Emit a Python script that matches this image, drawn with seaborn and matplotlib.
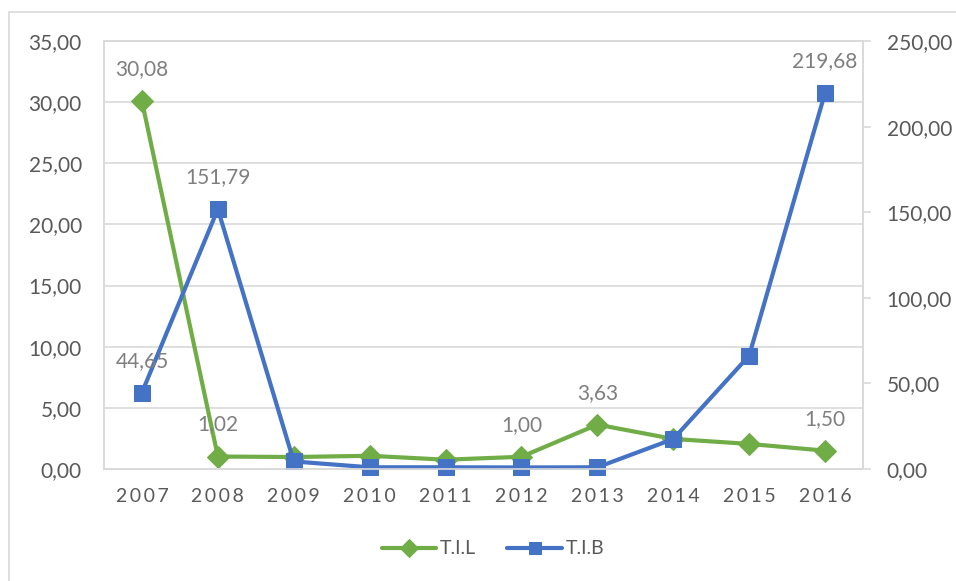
import matplotlib
matplotlib.use("Agg")
import matplotlib.pyplot as plt
import matplotlib.ticker as mticker
from matplotlib.patches import Rectangle
import numpy as np
import pandas as pd
import seaborn as sns

years = ["2007", "2008", "2009", "2010", "2011", "2012", "2013", "2014", "2015", "2016"]
til = [30.08, 1.02, 0.98, 1.08, 0.76, 1.00, 3.63, 2.46, 2.05, 1.50]
tib = [44.65, 151.79, 4.4, 1.0, 1.0, 0.9, 1.0, 17.5, 66.2, 219.68]
til_labelled = ["2007", "2008", "2012", "2013", "2016"]
tib_labelled = ["2007", "2008", "2016"]

GREEN = "#70AD47"
BLUE = "#4472C4"
GRID = "#d9d9d9"
TICK = "#595959"
LABEL = "#7f7f7f"


def comma(v, _=None):
    return f"{v:.2f}".replace(".", ",")


sns.set_theme(style="white")
plt.rcParams["font.family"] = ["Lato", "DejaVu Sans"]

df = pd.DataFrame({"pos": np.arange(len(years)), "year": years, "til": til, "tib": tib})

fig = plt.figure(figsize=(9.56, 5.81), dpi=100)
ax = fig.add_axes([104 / 956, 1 - 469 / 581, (863 - 104) / 956, (469 - 41) / 581])
ax2 = ax.twinx()

sns.lineplot(data=df, x="pos", y="til", ax=ax, color=GREEN, lw=3, marker="D",
             markersize=11, markeredgecolor=GREEN, label="T.I.L", legend=False, clip_on=False)
sns.lineplot(data=df, x="pos", y="tib", ax=ax2, color=BLUE, lw=3, marker="s",
             markersize=11, markeredgecolor=BLUE, label="T.I.B", legend=False, clip_on=False)

ax.set_xlim(-0.5, len(years) - 0.5)
ax.set_ylim(0, 35)
ax.set_yticks(np.arange(0, 36, 5))
ax2.set_ylim(0, 250)
ax2.set_yticks(np.arange(0, 251, 50))
ax.yaxis.set_major_formatter(mticker.FuncFormatter(comma))
ax2.yaxis.set_major_formatter(mticker.FuncFormatter(comma))

ax.set_xticks(df["pos"])
ax.set_xticklabels(["\u2009".join(y) for y in years], fontsize=14)
ax.grid(axis="y", color=GRID, lw=1.2)

ax.tick_params(axis="y", length=0, pad=16, labelsize=15, labelcolor=TICK)
ax.tick_params(axis="x", length=0, pad=14, labelcolor=TICK)
ax2.tick_params(axis="y", length=6, width=1.2, color=GRID, pad=11, labelsize=15,
                labelcolor=TICK, direction="out")
ax.set_xlabel("")
ax.set_ylabel("")
ax2.set_ylabel("")
for a in (ax, ax2):
    for s in a.spines.values():
        s.set_color(GRID)
        s.set_linewidth(1.2)

for y, v in zip(years, til):
    if y in til_labelled:
        ax2.annotate(comma(v), (years.index(y), v), xycoords=ax.transData, xytext=(0, 23),
                     textcoords="offset points", ha="center", va="center", fontsize=15, color=LABEL)
for y, v in zip(years, tib):
    if y in tib_labelled:
        ax2.annotate(comma(v), (years.index(y), v), xytext=(0, 23), textcoords="offset points",
                     ha="center", va="center", fontsize=15, color=LABEL)

h1, l1 = ax.get_legend_handles_labels()
h2, l2 = ax2.get_legend_handles_labels()
fig.legend(h1 + h2, l1 + l2, loc="center", bbox_to_anchor=(493 / 956, 1 - 549 / 581),
           ncol=2, frameon=False, fontsize=14, handlelength=2.8, columnspacing=1.6,
           handletextpad=0.2, labelcolor=TICK, markerscale=0.8)

fig.patches.append(Rectangle((9 / 956, -0.1), 1.2, 1.1 - 12 / 581, transform=fig.transFigure,
                             fill=False, edgecolor=GRID, lw=1.2))

fig.savefig("out.png", dpi=100)
